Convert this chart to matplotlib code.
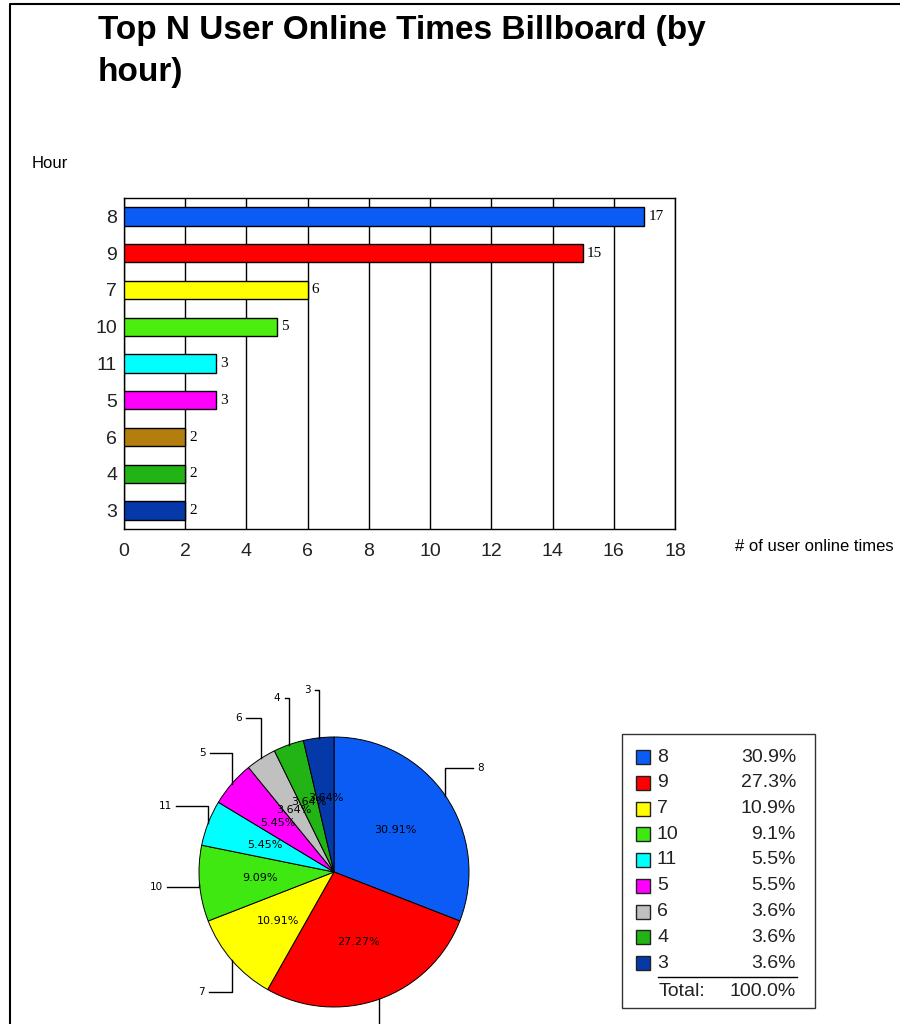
import matplotlib
matplotlib.use("Agg")
import matplotlib.pyplot as plt
from matplotlib.lines import Line2D
from matplotlib.patches import Rectangle
import numpy as np

# data (ordered as in the chart, top to bottom / clockwise)
hours = ['8', '9', '7', '10', '11', '5', '6', '4', '3']
counts = [17, 15, 6, 5, 3, 3, 2, 2, 2]
bar_colors = ['#0a5cf5', '#ff0000', '#ffff00', '#4cee10', '#00ffff',
              '#ff00ff', '#b47e0e', '#22b414', '#0538a8']
pie_colors = ['#0a5cf5', '#ff0000', '#ffff00', '#40e812', '#00ffff',
              '#ff00ff', '#c0c0c0', '#22b414', '#0538a8']
x_ticks = [0, 2, 4, 6, 8, 10, 12, 14, 16, 18]

# leader line layout for the pie labels (end height and horizontal leg, radius units)
leader_end_y = [0.77, -1.35, -0.889, -0.111, 0.489, 0.881, 1.141, 1.289, 1.348]
leader_dx = [0.207, 0.2, -0.170, -0.244, -0.237, -0.163, -0.111, -0.03, -0.03]

W, H = 900, 1024
SANS = ['Liberation Sans', 'DejaVu Sans']


def fx(px):
    return px / W


def fy(py):
    return 1 - py / H


fig = plt.figure(figsize=(9, 10.24), dpi=100)

# outer frame
fig.add_artist(Line2D([fx(10), fx(10), fx(900)], [fy(1030), fy(4), fy(4)],
                      color='black', lw=1.5))

fig.text(fx(98), fy(39), "Top N User Online Times Billboard (by", fontsize=24,
         fontweight='bold', family=SANS, va='baseline')
fig.text(fx(98), fy(81), "hour)", fontsize=24, fontweight='bold', family=SANS,
         va='baseline')
fig.text(fx(32), fy(168), "Hour", fontsize=12, family=SANS, va='baseline')
fig.text(fx(735), fy(551), "# of user online times", fontsize=12, family=SANS,
         va='baseline')

# ---- bar chart ----
ax = fig.add_axes([fx(124), fy(529), (675 - 124) / W, (529 - 198) / H])
ypos = list(range(len(hours)))[::-1]
ax.barh(ypos, counts, height=0.5, color=bar_colors, edgecolor='black',
        linewidth=1, zorder=3)
for y, c in zip(ypos, counts):
    ax.text(c + 0.13, y, str(c), va='center', ha='left', fontsize=11,
            family=['Liberation Serif', 'DejaVu Serif'], zorder=4)
ax.set_xlim(0, 18)
ax.set_ylim(-0.5, len(hours) - 0.5)
ax.set_xticks(x_ticks)
ax.set_yticks(ypos)
ax.set_yticklabels(hours)
ax.tick_params(length=0, labelsize=14)
ax.tick_params(axis='y', pad=5)
ax.tick_params(axis='x', pad=10)
for lab in ax.get_xticklabels() + ax.get_yticklabels():
    lab.set_family(SANS)
    lab.set_color('#222222')
ax.grid(axis='x', color='black', lw=1, zorder=1)
for s in ax.spines.values():
    s.set_color('black')
    s.set_linewidth(1)

# ---- pie chart ----
R = 135.0
cx, cy = 334, 872
half = 200
pax = fig.add_axes([fx(cx - half), fy(cy + half), 2 * half / W, 2 * half / H])
wedges, texts, autotexts = pax.pie(
    counts, colors=pie_colors, startangle=90, counterclock=False,
    autopct='%.2f%%', pctdistance=0.55, radius=1,
    wedgeprops=dict(edgecolor='black', linewidth=0.7),
    textprops=dict(fontsize=8, family='DejaVu Sans', color='black'))
lim = half / R
pax.set_xlim(-lim, lim)
pax.set_ylim(-lim, lim)
pax.set_aspect('equal')
pax.axis('off')

bottom_edge = -(H - cy) / R
for w, name, ey, dx in zip(wedges, hours, leader_end_y, leader_dx):
    ang = np.deg2rad((w.theta1 + w.theta2) / 2)
    x0, y0 = np.cos(ang), np.sin(ang)
    pax.plot([x0, x0, x0 + dx], [y0, ey, ey], color='black', lw=1,
             clip_on=False)
    if ey < bottom_edge:
        continue  # label falls below the picture, as in the original
    gap = 0.03 if dx >= 0 else -0.03
    pax.text(x0 + dx + gap, ey, name, fontsize=7.5, family='DejaVu Sans',
             ha='left' if dx >= 0 else 'right', va='center', clip_on=False)

# ---- legend table ----
fig.add_artist(Rectangle((fx(622), fy(1008)), (815 - 622) / W, (1008 - 734) / H,
                         facecolor='none', edgecolor='#333333', lw=1))
total = sum(counts)
for i, (name, c, col) in enumerate(zip(hours, counts, pie_colors)):
    yc = 757 + i * 25.75
    fig.add_artist(Rectangle((fx(636), fy(yc + 7)), 14 / W, 14 / H,
                             facecolor=col, edgecolor='#222222', lw=1))
    fig.text(fx(657), fy(yc), name, fontsize=14, family=SANS, va='center',
             color='#222222')
    fig.text(fx(796), fy(yc), "{:.1f}%".format(c / total * 100), fontsize=14,
             family=SANS, va='center', ha='right', color='#222222')
fig.add_artist(Line2D([fx(658), fx(797)], [fy(977), fy(977)], color='black', lw=1))
fig.text(fx(659), fy(992), "Total:", fontsize=14, family=SANS, va='center',
         color='#222222')
fig.text(fx(796), fy(992), "100.0%", fontsize=14, family=SANS, va='center',
         ha='right', color='#222222')

fig.savefig("out.png", dpi=100)
